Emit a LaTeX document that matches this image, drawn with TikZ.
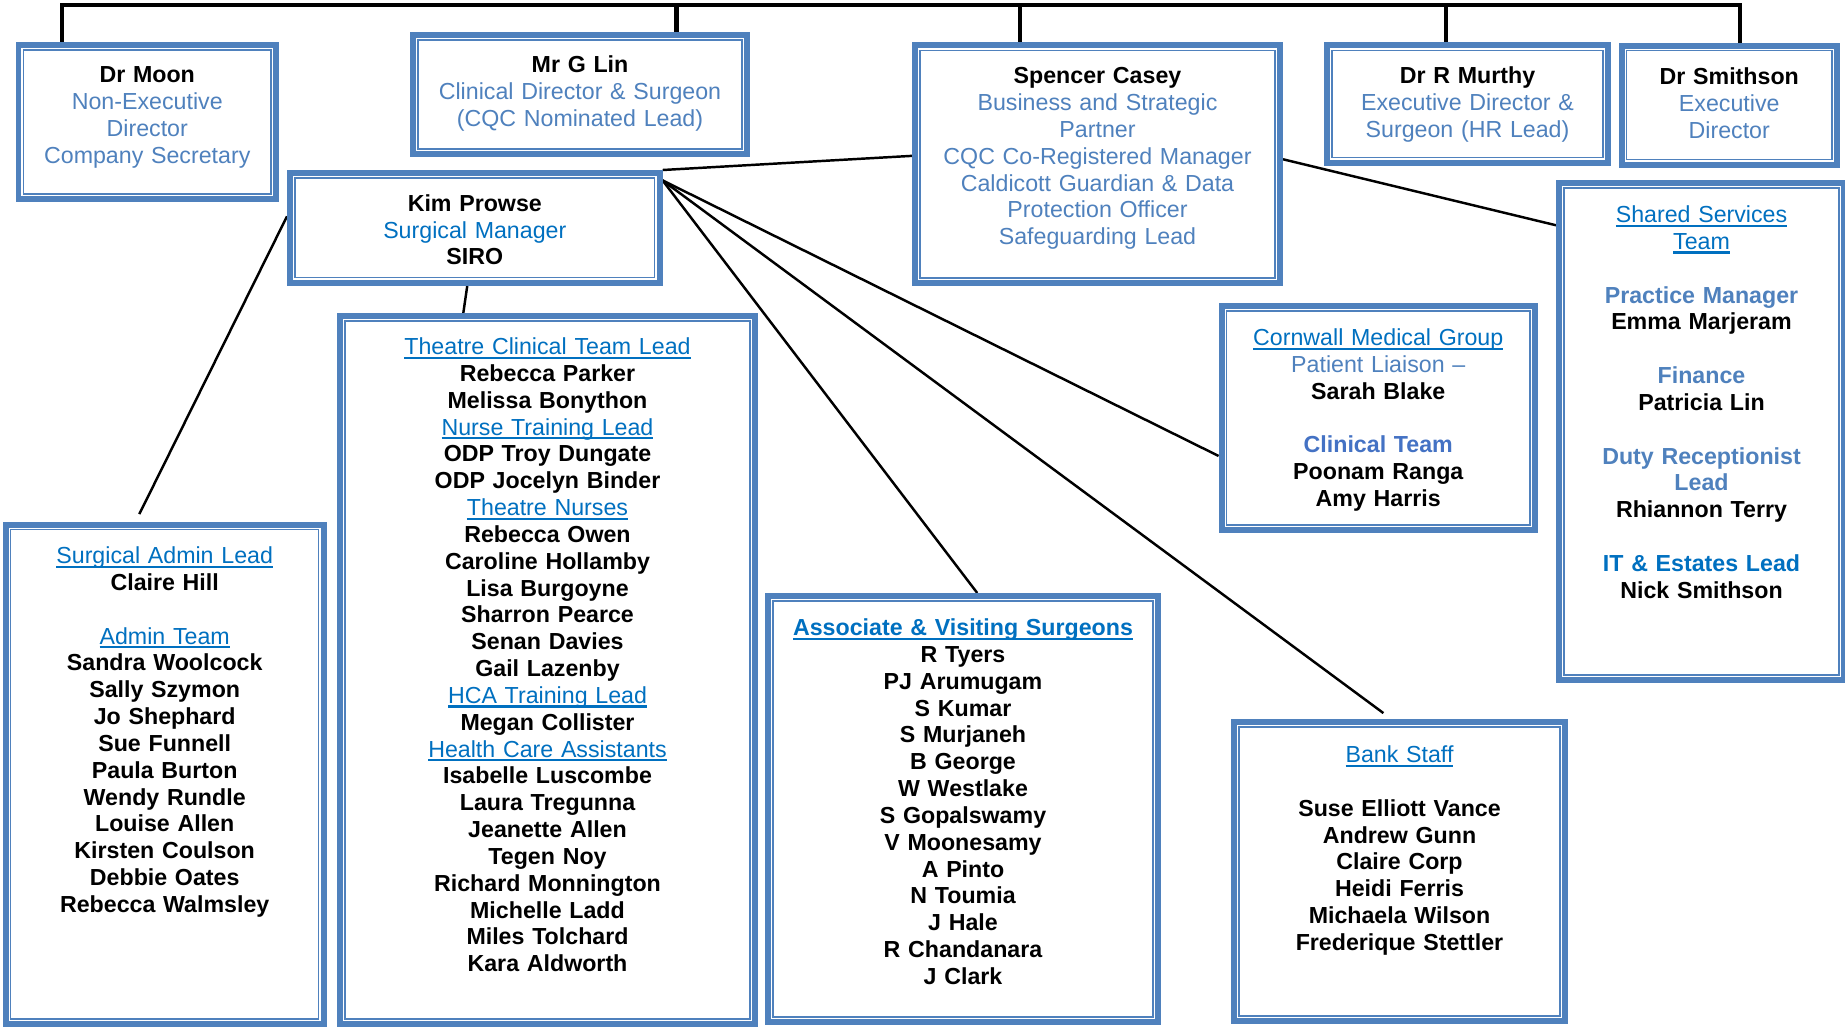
\documentclass[tikz,border=0pt]{standalone}
\usepackage{fontspec}
\setmainfont{Liberation Sans}
\definecolor{boxblue}{HTML}{4F81BD}
\definecolor{roleblue}{HTML}{4F81BD}
\definecolor{linkblue}{HTML}{0070C0}
\definecolor{teamblue}{HTML}{4472C4}
\usetikzlibrary{calc, backgrounds}
\newsavebox{\ulbox}
\newcommand{\uln}[1]{\sbox{\ulbox}{#1}\rlap{\rule[-2.4pt]{\wd\ulbox}{1.2pt}}\usebox{\ulbox}}
\newcommand{\role}[1]{\textcolor{roleblue}{\mdseries #1}}
\newcommand{\team}[1]{\textcolor{linkblue}{\mdseries\uln{#1}}}
\tikzset{
  orgbox/.style={
    draw=boxblue, line width=3.4pt, fill=white, inner sep=0pt,
    align=center, text=black,
    font=\fontsize{13.2}{15.27}\selectfont\bfseries,
    text height=0.77cm,
    path picture={
      \draw[boxblue, line width=0.8pt]
        ([shift={(0.1,-0.1)}]path picture bounding box.north west) rectangle
        ([shift={(-0.1,0.1)}]path picture bounding box.south east);
    }
  },
  orgline/.style={draw=black, line width=1.4pt},
  busline/.style={draw=black, line width=2.4pt},
}

\begin{document}
\begin{tikzpicture}
  \useasboundingbox (0,0) rectangle (36.9,-20.56);

  % Top row
  \node[orgbox, text width=5.15cm, text height=0.756cm, text depth=2.324cm] (moon) at (2.945,-2.44)
    {Dr Moon\\\role{Non-Executive}\\\role{Director}\\\role{Company Secretary}};
  \node[orgbox, text width=6.68cm, text height=0.756cm, text depth=1.624cm] (lin) at (11.6,-1.89)
    {Mr G Lin\\\role{Clinical Director \& Surgeon}\\\role{(CQC Nominated Lead)}};
  \node[orgbox, text width=7.3cm, text depth=3.984cm] (casey) at (21.95,-3.283)
    {Spencer Casey\\\role{Business and Strategic}\\\role{Partner}\\\role{CQC Co-Registered Manager}\\
     \role{Caldicott Guardian \& Data}\\\role{Protection Officer}\\\role{Safeguarding Lead}};
  \node[orgbox, text width=5.62cm, text depth=1.578cm] (murthy) at (29.35,-2.08)
    {Dr R Murthy\\\role{Executive Director \&}\\\role{Surgeon (HR Lead)}};
  \node[orgbox, text width=4.31cm, text height=0.776cm, text depth=1.604cm] (smithson) at (34.585,-2.104)
    {Dr Smithson\\\role{Executive}\\\role{Director}};

  % Surgical manager
  \node[orgbox, text width=7.392cm, text height=0.764cm, text depth=1.43cm] (kim) at (9.496,-4.557)
    {Kim Prowse\\\textcolor{linkblue}{\mdseries Surgical Manager}\\SIRO};

  % Teams
  \node[orgbox, text width=5.7cm, text height=0.79cm, text depth=9.15cm] (shared) at (34.03,-8.63)
    {\team{Shared Services}\\\team{Team}\\[15.27pt]
     \textcolor{roleblue}{Practice Manager}\\Emma Marjeram\\[15.27pt]
     \textcolor{roleblue}{Finance}\\Patricia Lin\\[15.27pt]
     \textcolor{roleblue}{Duty Receptionist}\\\textcolor{roleblue}{Lead}\\Rhiannon Terry\\[15.27pt]
     \textcolor{linkblue}{IT \& Estates Lead}\\Nick Smithson};
  \node[orgbox, text width=6.27cm, text height=0.79cm, text depth=3.69cm] (cornwall) at (27.565,-8.36)
    {\team{Cornwall Medical Group}\\\role{Patient Liaison --}\\Sarah Blake\\[15.27pt]
     \textcolor{teamblue}{Clinical Team}\\Poonam Ranga\\Amy Harris};
  \node[orgbox, text width=6.36cm, text height=0.776cm, text depth=9.21cm] (admin) at (3.294,-15.487)
    {\team{Surgical Admin Lead}\\Claire Hill\\[15.27pt]
     \team{Admin Team}\\Sandra Woolcock\\Sally Szymon\\Jo Shephard\\Sue Funnell\\Paula Burton\\
     Wendy Rundle\\Louise Allen\\Kirsten Coulson\\Debbie Oates\\Rebecca Walmsley};
  \node[orgbox, text width=8.3cm, text depth=13.39cm] (theatre) at (10.95,-13.4)
    {\team{Theatre Clinical Team Lead}\\Rebecca Parker\\Melissa Bonython\\
     \team{Nurse Training Lead}\\ODP Troy Dungate\\ODP Jocelyn Binder\\
     \team{Theatre Nurses}\\Rebecca Owen\\Caroline Hollamby\\Lisa Burgoyne\\Sharron Pearce\\
     Senan Davies\\Gail Lazenby\\
     \team{HCA Training Lead}\\Megan Collister\\
     \team{Health Care Assistants}\\Isabelle Luscombe\\Laura Tregunna\\Jeanette Allen\\Tegen Noy\\
     Richard Monnington\\Michelle Ladd\\Miles Tolchard\\Kara Aldworth};
  \node[orgbox, text width=7.8cm, text height=0.79cm, text depth=7.73cm] (surgeons) at (19.26,-16.18)
    {\textcolor{linkblue}{\uln{Associate \& Visiting Surgeons}}\\R Tyers\\PJ Arumugam\\S Kumar\\
     S Murjaneh\\B George\\W Westlake\\S Gopalswamy\\V Moonesamy\\A Pinto\\N Toumia\\J Hale\\
     R Chandanara\\J Clark};
  \node[orgbox, text width=6.62cm, text height=0.81cm, text depth=5.17cm] (bank) at (27.99,-17.43)
    {\team{Bank Staff}\\[15.27pt]Suse Elliott Vance\\Andrew Gunn\\Claire Corp\\Heidi Ferris\\
     Michaela Wilson\\Frederique Stettler};

  \begin{scope}[on background layer]
    % bus along the top
    \coordinate (bus) at (0,-0.1);
    \path ($(moon.north west)!.177!(moon.north east)$) coordinate (moontop)
          ($(lin.north west)!.784!(lin.north east)$) coordinate (lintop)
          ($(casey.north west)!.29!(casey.north east)$) coordinate (caseytop)
          ($(murthy.north west)!.425!(murthy.north east)$) coordinate (murthytop)
          ($(smithson.north west)!.55!(smithson.north east)$) coordinate (smithsontop);
    \draw[busline] (moontop) -- (moontop |- bus) -- (smithsontop |- bus) -- (smithsontop);
    \draw[busline] (lintop) -- (lintop |- bus);
    \draw[busline] (caseytop) -- (caseytop |- bus);
    \draw[busline] (murthytop) -- (murthytop |- bus);

    % reporting lines
    \draw[orgline] ($(casey.north west)!.466!(casey.south west)$) -- (kim.north east);
    \draw[orgline] ($(casey.north east)!.48!(casey.south east)$) -- ($(shared.north west)!.09!(shared.south west)$);
    \draw[orgline, shorten >=0.17cm] ($(kim.north west)!.4!(kim.south west)$) -- ($(admin.north west)!.41!(admin.north east)$);
    \draw[orgline] ($(kim.south west)!.48!(kim.south east)$) -- ($(theatre.north west)!.3!(theatre.north east)$);
    \coordinate (kimfan) at ($(kim.north east)!.09!(kim.south east)$);
    \draw[orgline] (kimfan) -- ($(cornwall.north west)!.665!(cornwall.south west)$);
    \draw[orgline] (kimfan) -- ($(surgeons.north west)!.536!(surgeons.north east)$);
    \draw[orgline, shorten >=0.2cm] (kimfan) -- ($(bank.north west)!.476!(bank.north east)$);
  \end{scope}
\end{tikzpicture}
\end{document}
